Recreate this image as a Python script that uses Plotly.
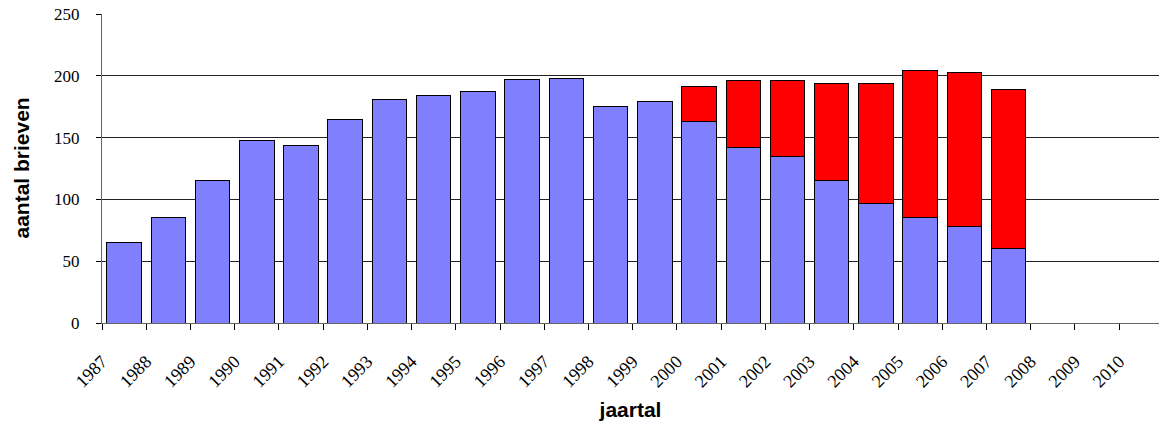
import plotly.graph_objects as go

years = list(range(1987, 2008))
blue_values = [65, 85, 115, 148, 144, 165, 181, 184, 187, 197, 198, 175, 179,
               163, 142, 135, 115, 97, 85, 78, 60]
red_values = [0, 0, 0, 0, 0, 0, 0, 0, 0, 0, 0, 0, 0,
              28, 54, 61, 79, 97, 119, 125, 129]
tick_years = list(range(1987, 2011))
tick_labels = [str(y) for y in tick_years]
y_ticks = [0, 50, 100, 150, 200, 250]
y_title = "aantal brieven"
x_title = "jaartal"

fig = go.Figure()
fig.add_trace(go.Bar(x=years, y=blue_values, width=0.78, offset=0.11,
                     marker=dict(color="#8080FF", line=dict(color="#000000", width=1)),
                     name="blauw", showlegend=False))
fig.add_trace(go.Bar(x=years, y=red_values, width=0.78, offset=0.11,
                     marker=dict(color="#FF0000", line=dict(color="#000000", width=1)),
                     name="rood", showlegend=False))

fig.update_layout(
    barmode="stack",
    width=1159, height=428,
    margin=dict(l=102, r=0, t=14, b=105),
    plot_bgcolor="white", paper_bgcolor="white",
    font=dict(family="Liberation Serif", color="black"),
)
fig.update_xaxes(
    range=[1987, 2010.9], automargin=False,
    tickmode="array", tickvals=tick_years, ticktext=tick_labels,
    tickangle=-45,
    ticks="outside", ticklen=6, tickcolor="black", tickwidth=1,
    ticklabelstandoff=14,
    tickfont=dict(family="Liberation Serif", size=18, color="black"),
    showline=True, linecolor="#666666", linewidth=1,
    showgrid=False, zeroline=False,
    title=dict(text=x_title, font=dict(family="Liberation Sans", size=21, color="black", weight="bold"), standoff=12),
)
fig.update_yaxes(
    range=[0, 250.05], tickvals=y_ticks, automargin=False,
    ticks="outside", ticklen=5, tickcolor="black", tickwidth=1,
    ticklabelstandoff=13, ticklabeloverflow="allow",
    tickfont=dict(family="Liberation Serif", size=17, color="black"),
    showline=True, linecolor="#666666", linewidth=1,
    showgrid=True, gridcolor="#222222", gridwidth=1,
    zeroline=False,
)
fig.add_annotation(
    text=y_title, textangle=-90, showarrow=False,
    xref="paper", yref="paper", x=-0.0766, y=0.5,
    xanchor="center", yanchor="middle",
    font=dict(family="Liberation Sans", size=21, color="black", weight="bold"),
)

fig.write_html("out.html", config={"displayModeBar": False},
               post_script="document.body.style.margin='0';")
